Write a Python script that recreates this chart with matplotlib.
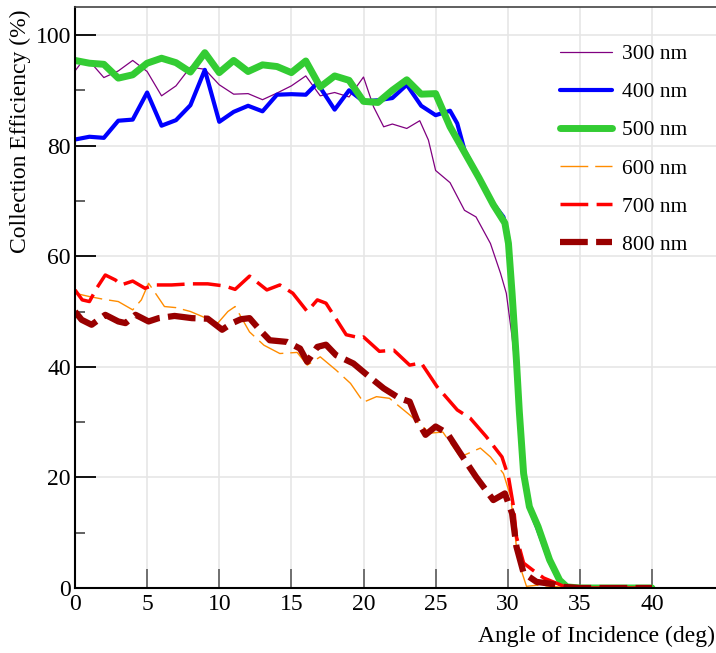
import matplotlib
matplotlib.use("Agg")
import matplotlib.pyplot as plt

# ---------------- data ----------------
ang_300 = [0, 0.5, 1, 2, 3, 4, 5, 6, 7, 8, 9, 10, 11, 12, 13, 14, 15, 16, 17, 18, 19, 20,
           20.7, 21.4, 22, 23, 23.9, 24.5, 25, 26, 27, 27.8, 28.8, 29.5, 29.9, 30.3, 30.6,
           30.8, 31.1, 31.5, 32.1, 32.9, 33.6, 34.1, 35, 40]
eff_300 = [93.5, 95.2, 95.3, 92.3, 93.5, 95.4, 93.4, 89.0, 90.8, 94.2, 93.8, 91.0, 89.3, 89.4,
           88.3, 89.5, 90.8, 92.6, 89.0, 89.6, 88.8, 92.4, 87.0, 83.4, 83.9, 83.1, 84.5, 81.0,
           75.5, 73.3, 68.3, 67.1, 62.3, 56.9, 53.3, 45.4, 38.0, 32.0, 20.7, 14.7, 11.0, 5.0,
           1.4, 0.2, 0.0, 0.0]

ang_400 = [0, 1, 2, 3, 4, 5, 6, 7, 8, 9, 10, 11, 12, 13, 14, 15, 16, 16.8, 18, 19, 20, 21,
           22, 23, 24, 25, 26, 26.5, 27, 28, 29, 29.7, 30, 30.3, 30.6, 30.8, 31.1, 31.5, 32.1,
           32.9, 33.6, 34.1, 35, 40]
eff_400 = [81.1, 81.6, 81.4, 84.5, 84.7, 89.6, 83.6, 84.6, 87.3, 93.7, 84.3, 86.1, 87.2, 86.2,
           89.2, 89.3, 89.2, 91.3, 86.5, 90.0, 88.0, 88.2, 88.6, 91.0, 87.2, 85.5, 86.3, 84.0,
           79.2, 74.2, 69.5, 67.1, 64.0, 54.0, 41.2, 32.0, 20.7, 14.5, 10.5, 4.8, 1.2, 0.2,
           0.0, 0.0]

ang_500 = [0, 1, 2, 3, 4, 5, 6, 7, 8, 9, 10, 11, 12, 13, 14, 15, 16, 17, 18, 19, 20, 21, 22,
           23, 24, 25, 26, 27, 28, 29, 29.8, 30.05, 30.3, 30.6, 30.8, 31.1, 31.5, 32.1, 32.9,
           33.6, 34.1, 35, 40]
eff_500 = [95.4, 94.9, 94.7, 92.2, 92.8, 94.9, 95.8, 95.0, 93.3, 96.8, 93.2, 95.4, 93.4, 94.6,
           94.3, 93.2, 95.3, 90.6, 92.6, 91.8, 88.0, 87.8, 90.0, 91.9, 89.3, 89.4, 83.4, 78.8,
           74.2, 69.3, 66.0, 62.3, 53.3, 41.2, 32.0, 20.7, 14.7, 11.1, 5.1, 1.4, 0.2, 0.0, 0.0]

ang_600 = [0, 1, 2, 3, 4, 4.6, 5.1, 5.5, 6.2, 7, 8, 9, 9.9, 10.6, 11.1, 12.1, 13.1, 14.2,
           15.4, 16.1, 17, 18.1, 19.1, 20, 20.9, 21.8, 23.2, 24.6, 25.5, 26.7, 28.1, 28.8,
           29.7, 30.2, 30.6, 31, 31.3, 32, 33, 34, 35, 40]
eff_600 = [53.3, 52.7, 52.2, 51.8, 50.3, 52.1, 55.1, 53.6, 50.9, 50.7, 50.0, 48.9, 47.9, 50.0,
           50.9, 46.3, 43.9, 42.4, 42.6, 40.3, 41.8, 39.4, 37.0, 33.6, 34.6, 34.3, 31.3, 28.0,
           28.2, 23.7, 25.3, 23.7, 20.7, 16.5, 7.5, 2.7, 0.3, 0.5, 0.3, 0.1, 0.0, 0.0]

ang_700 = [0, 0.5, 1, 1.5, 2.1, 2.8, 3.2, 4, 4.85, 5.5, 6.7, 8, 9.2, 10.4, 11.1, 12.1, 13.3,
           14.2, 15.1, 16.1, 16.8, 17.4, 18.8, 19.8, 20.0, 21.1, 22.1, 23.2, 24, 25.1, 26.5,
           27.4, 28.5, 29.6, 30.05, 30.4, 30.6, 31.1, 31.7, 32.5, 33.9, 35, 40]
eff_700 = [53.9, 52.1, 51.8, 54.2, 56.6, 55.7, 54.8, 55.5, 54.2, 54.8, 54.8, 55.0, 55.0, 54.6,
           54.0, 56.4, 53.9, 54.8, 53.3, 50.0, 52.1, 51.5, 45.8, 45.2, 45.4, 42.8, 43.0, 40.3,
           40.7, 36.4, 32.2, 30.7, 27.4, 23.7, 20.1, 14.7, 9.3, 4.5, 3.3, 1.8, 0.3, 0.0, 0.0]

ang_800 = [0, 0.46, 1.15, 2.1, 3, 3.5, 4.2, 5.1, 5.8, 6.9, 8.1, 9.2, 10.2, 10.9, 11.5, 12.1,
           12.8, 13.5, 14.7, 15.6, 16.1, 16.8, 17.4, 18.1, 19.3, 20.4, 21.4, 22.5, 23.2, 23.7,
           24.3, 25, 25.8, 26.7, 27.8, 29, 29.8, 30.3, 30.6, 31.1, 32, 32.9, 33.9, 35, 40]
eff_800 = [50.0, 48.5, 47.6, 49.4, 48.2, 47.9, 49.4, 48.2, 48.8, 49.2, 48.8, 48.7, 46.7, 47.9,
           48.6, 48.8, 46.7, 44.8, 44.5, 43.3, 40.9, 43.6, 44.0, 42.1, 40.6, 38.2, 36.1, 34.3,
           33.7, 30.4, 27.7, 29.2, 28.0, 24.4, 20.1, 15.9, 17.1, 13.5, 7.5, 2.7, 1.1, 0.8, 0.2,
           0.0, 0.0]

labels = ["300 nm", "400 nm", "500 nm", "600 nm", "700 nm", "800 nm"]
x_ticks = [0, 5, 10, 15, 20, 25, 30, 35, 40]
y_ticks = [0, 20, 40, 60, 80, 100]
y_minor = [10, 30, 50, 70, 90]

# ---------------- style ----------------
plt.rcParams['font.family'] = ['Liberation Serif', 'DejaVu Serif']
plt.rcParams['lines.scale_dashes'] = False

fig = plt.figure(figsize=(7.16, 6.53), dpi=100)
ax = fig.add_axes([75 / 716, 65 / 653, (716 - 75) / 716, (588 - 7) / 653])

series = [
    (ang_300, eff_300, dict(color='#800080', lw=0.9, ls='-')),
    (ang_400, eff_400, dict(color='#0000ff', lw=3.0, ls='-')),
    (ang_500, eff_500, dict(color='#33cc33', lw=5.0, ls='-')),
    (ang_600, eff_600, dict(color='#ff8c00', lw=1.0, ls=(0, (20, 5)))),
    (ang_700, eff_700, dict(color='#ff0000', lw=2.5, ls=(0, (20, 6)))),
    (ang_800, eff_800, dict(color='#990000', lw=4.5, ls=(0, (20, 6)))),
]
for (xs, ys, st), lab in zip(series, labels):
    ax.plot(xs, ys, label=lab, solid_joinstyle='round', solid_capstyle='round',
            dash_capstyle='butt', dash_joinstyle='round', **st)

ax.set_xlim(0, (716 - 75) / 14.425)
ax.set_ylim(0, (588 - 7) / 5.53)
ax.set_xticks(x_ticks)
ax.set_yticks(y_ticks)
ax.set_yticks(y_minor, minor=True)

ax.grid(True, which='major', color='#e6e6e6', lw=1.2, zorder=0)
ax.set_axisbelow(True)

ax.tick_params(axis='y', which='major', direction='in', length=15, width=1.3,
               color='black', labelsize=17, pad=3)
ax.tick_params(axis='y', which='minor', direction='in', length=7, width=1.3, color='#555555')
ax.tick_params(axis='x', which='major', direction='in', length=14, width=1.3,
               color='#666666', labelsize=17, pad=4)

for s in ['left', 'bottom']:
    ax.spines[s].set_color('black')
    ax.spines[s].set_linewidth(1.5)
ax.spines['top'].set_color('#444444')
ax.spines['top'].set_linewidth(1.2)
ax.spines['right'].set_visible(False)

fig.text(0.028, 0.985, "Collection Efficiency (%)", rotation=90, ha='center', va='top',
         fontsize=17)
fig.text(0.999, 0.026, "Angle of Incidence (deg)", ha='right', va='center', fontsize=17)

leg = ax.legend(loc='upper left', bbox_to_anchor=(560 / 716, 1 - 44 / 653),
                bbox_transform=fig.transFigure, frameon=False, fontsize=15.5,
                handlelength=2.42, handletextpad=0.47, labelspacing=0.84,
                borderpad=0, borderaxespad=0)

fig.savefig("out.png", dpi=100)
